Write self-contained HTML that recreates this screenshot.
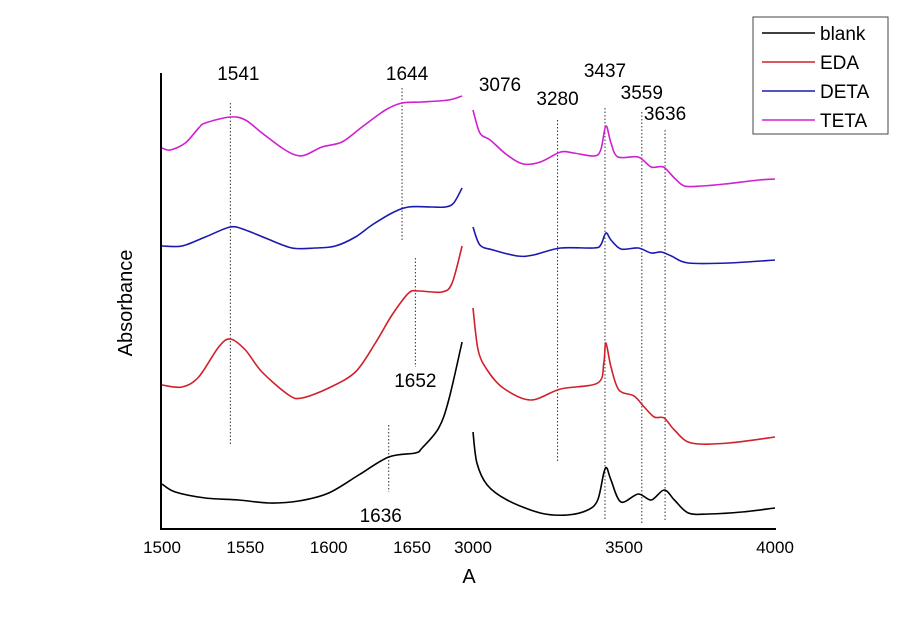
<!DOCTYPE html>
<html><head><meta charset="utf-8"><style>
body{margin:0;background:#fff}
svg text{font-family:"Liberation Sans",Arial,sans-serif}
</style></head><body>
<svg id="chart" width="900" height="635" viewBox="0 0 900 635" xmlns="http://www.w3.org/2000/svg"></svg>
<script>
// ---- data (wavenumber, absorbance arbitrary units) ----
const leftW = {
  blank:[1500,1508,1526,1546,1564,1582,1600,1618,1636,1652,1656,1666,1672,1680],
  EDA:[1500,1512,1522,1534,1541,1550,1560,1576,1584,1600,1616,1628,1638,1648,1654,1668,1674,1680],
  DETA:[1500,1512,1526,1541,1550,1562,1578,1592,1604,1616,1626,1638,1648,1662,1670,1675,1680],
  TETA:[1500,1505,1514,1522,1526,1541,1550,1560,1572,1580,1586,1596,1608,1620,1634,1644,1656,1672,1680]
};
const leftA = {
  blank:[45,37,31,29,26,28,36,54,72,76,81,101,129,187],
  EDA:[144,142,152,182,190,179,157,134,131,141,157,186,214,236,238,237,246,283],
  DETA:[283,283,292,302,299,291,281,281,283,292,304,316,322,322,322,326,341],
  TETA:[381,379,386,401,406,412,409,396,381,374,374,382,387,402,419,426,427,429,433]
};
const rightW = {
  blank:[3000,3013,3047,3113,3223,3313,3380,3413,3433,3443,3457,3490,3547,3590,3633,3667,3713,3780,3890,4000],
  EDA:[3000,3017,3047,3100,3190,3290,3413,3433,3440,3457,3483,3533,3567,3600,3633,3667,3723,3847,4000],
  DETA:[3000,3023,3067,3147,3200,3290,3400,3423,3440,3457,3490,3547,3590,3623,3657,3713,3847,4000],
  TETA:[3000,3023,3057,3113,3167,3223,3290,3333,3400,3423,3440,3457,3480,3547,3590,3630,3667,3700,3757,3833,3947,4000]
};
const rightA = {
  blank:[97,66,44,29,16,14,19,29,56,61,49,27,35,29,39,29,16,15,17,21],
  EDA:[221,179,159,141,129,140,146,166,186,162,139,133,122,112,111,99,86,86,92],
  DETA:[302,284,279,273,274,281,281,284,296,289,280,281,276,277,273,266,266,269],
  TETA:[419,396,389,374,365,367,377,376,373,379,403,386,372,372,362,362,351,343,343,345,349,350]
};
const seriesNames = ["blank","EDA","DETA","TETA"];
const seriesColors = ["#000000","#d0202a","#1a1ab0","#d020d0"];
const leftTicks = [1500,1550,1600,1650];
const rightTicks = [3000,3500,4000];
const annoW = [1541,1644,1652,1636,3280,3437,3559,3636];
const annoTop = [426,441,271,104,409,421,417,399];
const annoBot = [84,289,162,37,67,9,6,9];
const labelText = ["1541","1644","1652","1636","3280","3437","3559","3636"];
const labelAbs = [449,449,142,7,424,452,430,409];

function xL(w){return 162 + (w-1500)*1.667;}
function xR(w){return 473 + (w-3000)*0.302;}
function xW(w){return w>=2000 ? xR(w) : xL(w);}
function yA(a){return 529 - a;}

const svg = document.getElementById('chart');
const NS = "http://www.w3.org/2000/svg";
function mk(tag, attrs, parent){
  const e = document.createElementNS(NS, tag);
  for (const k in attrs) e.setAttribute(k, attrs[k]);
  (parent||svg).appendChild(e);
  return e;
}
function smoothPath(pts){
  let d = 'M'+pts[0][0].toFixed(1)+','+pts[0][1].toFixed(1);
  for(let i=0;i<pts.length-1;i++){
    const p0=pts[Math.max(0,i-1)],p1=pts[i],p2=pts[i+1],p3=pts[Math.min(pts.length-1,i+2)];
    const k=0.16;
    const c1=[p1[0]+(p2[0]-p0[0])*k,p1[1]+(p2[1]-p0[1])*k];
    const c2=[p2[0]-(p3[0]-p1[0])*k,p2[1]-(p3[1]-p1[1])*k];
    d+=' C'+c1[0].toFixed(1)+','+c1[1].toFixed(1)+' '+c2[0].toFixed(1)+','+c2[1].toFixed(1)+' '+p2[0].toFixed(1)+','+p2[1].toFixed(1);
  }
  return d;
}

let ax = mk('line',{x1:161,y1:73,x2:161,y2:529,stroke:'#000','stroke-width':2});


ax = mk('line',{x1:160,y1:529,x2:776,y2:529,stroke:'#000','stroke-width':2});



leftTicks.forEach(t=>{
  const e = mk('text',{x:xL(t),y:553,'text-anchor':'middle','font-size':17});
  e.textContent = t;
  
  
});
rightTicks.forEach(t=>{
  const e = mk('text',{x:xR(t),y:553,'text-anchor':'middle','font-size':17});
  e.textContent = t;
  
  
});

let t = mk('text',{x:469,y:583,'text-anchor':'middle','font-size':20});
t.textContent='A';


t = mk('text',{x:0,y:0,'text-anchor':'middle','font-size':20,transform:'translate(132,303) rotate(-90)'});
t.textContent='Absorbance';



annoW.forEach((w,i)=>{
  const l = mk('line',{x1:xW(w),x2:xW(w),y1:yA(annoTop[i]),y2:yA(annoBot[i]),stroke:'#333','stroke-width':1,'stroke-dasharray':'1.5,2'});
  
  
  const tx = mk('text',{x:xW(w)+(i==3?-8:i==1?5:i==0?8:0),y:yA(labelAbs[i]),'text-anchor':'middle','font-size':19});
  tx.textContent = labelText[i];
  
  
});
t = mk('text',{x:500,y:91,'text-anchor':'middle','font-size':19});
t.textContent='3076';



seriesNames.forEach((s,i)=>{
  const pl = leftW[s].map((w,j)=>[xL(w),yA(leftA[s][j])]);
  const p1 = mk('path',{d:smoothPath(pl),fill:'none',stroke:seriesColors[i],'stroke-width':1.6,'stroke-linejoin':'round'});
  
  
  const pr = rightW[s].map((w,j)=>[xR(w),yA(rightA[s][j])]);
  const p2 = mk('path',{d:smoothPath(pr),fill:'none',stroke:seriesColors[i],'stroke-width':1.6,'stroke-linejoin':'round'});
  
  
});

const lg = mk('g',{});


mk('rect',{x:753,y:17,width:135,height:117,fill:'#fff',stroke:'#444','stroke-width':1},lg);
seriesNames.forEach((s,i)=>{
  const y = 33 + i*29;
  const l = mk('line',{x1:762,x2:815,y1:y,y2:y,stroke:seriesColors[i],'stroke-width':1.6},lg);
  
  
  const tx = mk('text',{x:820,y:y+7,'font-size':19},lg);
  tx.textContent = s;
  
  
});
</script>
</body></html>
